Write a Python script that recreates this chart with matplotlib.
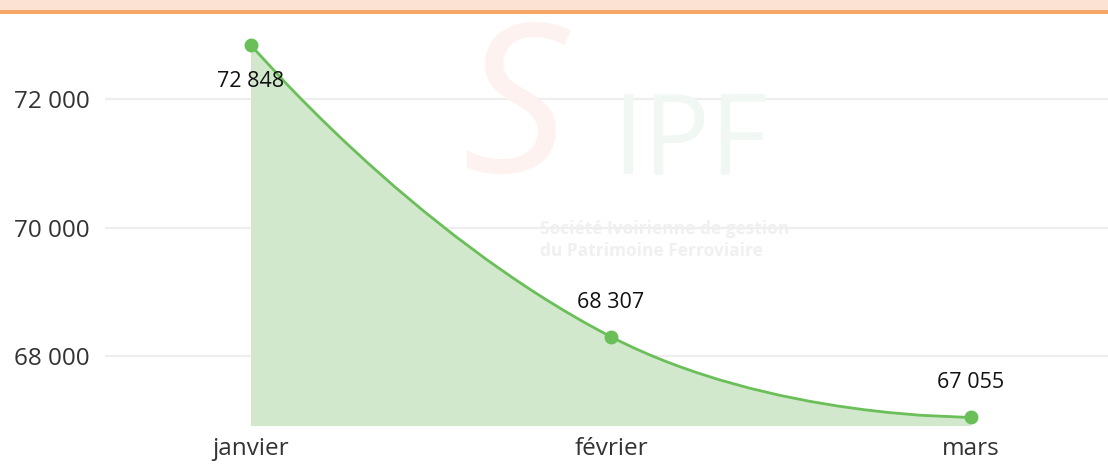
import numpy as np
import matplotlib
matplotlib.use("Agg")
import matplotlib.pyplot as plt
from matplotlib.path import Path
from matplotlib.patches import PathPatch, Rectangle

# Données
mois = ['janvier', 'février', 'mars']
valeurs = [72848, 68307, 67055]
etiquettes = ['72 848', '68 307', '67 055']
yticks = [68000, 70000, 72000]
ytick_labels = ['68 000', '70 000', '72 000']

plt.rcParams['font.family'] = ['Open Sans', 'DejaVu Sans']

W, H = 1108, 466
fig = plt.figure(figsize=(W / 100, H / 100), dpi=100)
fig.patch.set_facecolor('white')

# bandeau en haut
fig.patches.append(Rectangle((0, 1 - 10 / H), 1, 10 / H, transform=fig.transFigure,
                             facecolor='#fbe2d2', edgecolor='none', zorder=0))
fig.patches.append(Rectangle((0, 1 - 14 / H), 1, 4 / H, transform=fig.transFigure,
                             facecolor='#f5a865', edgecolor='none', zorder=1))

ax = fig.add_axes([105 / W, 1 - 426 / H, 1 - 105 / W, (426 - 14) / H])
ax.set_xlim(-0.4056, 2.3806)
ax.set_ylim(66918, 73330)

# filigrane (approximatif)
fig.text(515 / W, 1 - 118 / H, 'S', fontsize=150, color='#fdf2ef', ha='center', va='center',
         fontstyle='italic', zorder=0)
fig.text(690 / W, 1 - 145 / H, 'IPF', fontsize=80, color='#f1f7f2', ha='center', va='center',
         zorder=0)
fig.text(540 / W, 1 - 229 / H, 'Société Ivoirienne de gestion',
         fontsize=12.5, color='#f0f0f0', ha='left', va='center', fontweight='bold', zorder=0)
fig.text(540 / W, 1 - 251 / H, 'du Patrimoine Ferroviaire',
         fontsize=12.5, color='#f0f0f0', ha='left', va='center', fontweight='bold', zorder=0)

for s in ax.spines.values():
    s.set_visible(False)
ax.set_facecolor('none')
ax.tick_params(axis='both', length=0)
ax.set_yticks(yticks)
ax.set_yticklabels(ytick_labels, fontsize=17.5, color='#333333')
ax.tick_params(axis='y', pad=11)
ax.set_xticks(range(len(mois)))
ax.set_xticklabels(mois, fontsize=17.5, color='#333333')
ax.tick_params(axis='x', pad=8)
ax.grid(axis='y', color='#eeeeee', linewidth=1.6)
ax.set_axisbelow(True)

# courbe lissée (type echarts, smooth=0.5) calculée en pixels
x = np.arange(len(mois), dtype=float)
pts = ax.transData.transform(np.column_stack([x, valeurs]))
n = len(pts)
cp_in = pts.copy()
cp_out = pts.copy()
for i in range(1, n - 1):
    v = pts[i + 1] - pts[i - 1]
    d0 = np.linalg.norm(pts[i] - pts[i - 1])
    d1 = np.linalg.norm(pts[i + 1] - pts[i])
    cp_in[i] = pts[i] - v * 0.5 * d0 / (d0 + d1)
    cp_out[i] = pts[i] + v * 0.5 * d1 / (d0 + d1)
verts = [pts[0]]
codes = [Path.MOVETO]
for i in range(n - 1):
    verts += [cp_out[i], cp_in[i + 1], pts[i + 1]]
    codes += [Path.CURVE4] * 3
inv = ax.transData.inverted()
verts_d = inv.transform(np.array(verts))

line_path = Path(verts_d, codes)
ybas = ax.get_ylim()[0]
fill_verts = list(verts_d) + [[x[-1], ybas], [x[0], ybas], verts_d[0]]
fill_codes = codes + [Path.LINETO, Path.LINETO, Path.CLOSEPOLY]
ax.add_patch(PathPatch(Path(fill_verts, fill_codes), facecolor='#d1e8cd',
                       edgecolor='none', zorder=2))
ax.add_patch(PathPatch(line_path, facecolor='none', edgecolor='#6abf59',
                       linewidth=2.0, zorder=3, capstyle='round'))
ax.plot(x, valeurs, 'o', color='#6abf59', markersize=9, zorder=4)

offsets = [-26, 25, 25]
for xi, yi, lab, off in zip(x, valeurs, etiquettes, offsets):
    ax.annotate(lab, (xi, yi), xytext=(0, off), textcoords='offset points',
                ha='center', va='center', fontsize=15.5, color='#111111', zorder=5)

fig.savefig('out.png', dpi=100, facecolor='white')
